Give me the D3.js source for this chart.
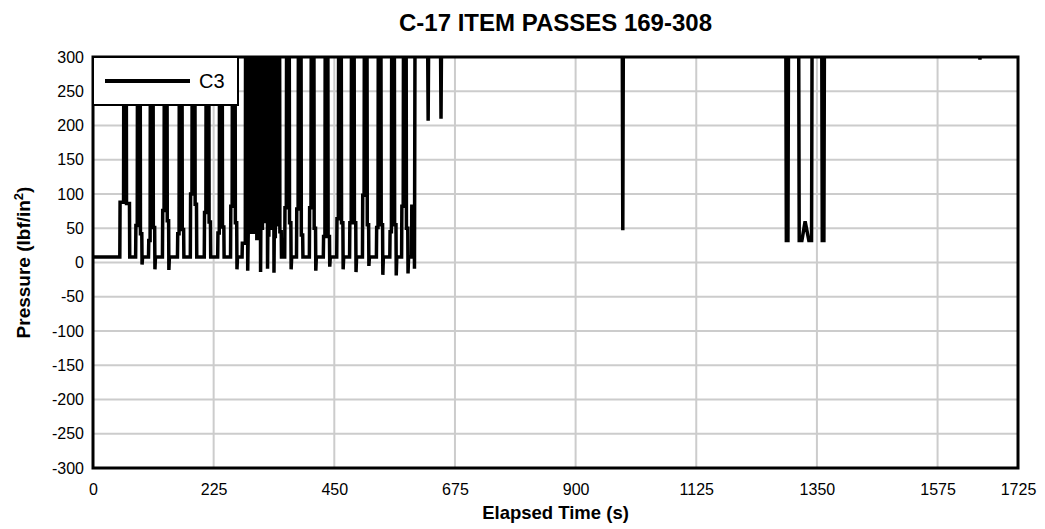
<!DOCTYPE html>
<html>
<head>
<meta charset="utf-8">
<script src="https://cdn.jsdelivr.net/npm/d3@7"></script>
<style>
  html, body { margin: 0; padding: 0; background: #fff; }
  svg { display: block; font-family: "Liberation Sans", Arial, Helvetica, sans-serif; }
</style>
</head>
<body>
<svg id="chart" width="1045" height="529"></svg>
<script>
// ---- data ----
const title = "C-17 ITEM PASSES 169-308";
const xLabel = "Elapsed Time (s)";
const seriesName = "C3";
const xTicks = [0, 225, 450, 675, 900, 1125, 1350, 1575, 1725];
const yTicks = [-300, -250, -200, -150, -100, -50, 0, 50, 100, 150, 200, 250, 300];

const time = [
  0,
  50, 50.5, 57, 57.5, 62, 62.5, 68, 68.5,
  79.5, 80, 82.5, 83, 88, 88.5, 91, 91.5, 92.5,
  103.5, 104, 106.5, 107, 112, 112.5, 115, 115.5, 116.5,
  129.5, 130, 132.5, 133, 138, 138.5, 141, 141.5, 142.5,
  157.5, 158, 160.5, 161, 166, 166.5, 169, 169.5,
  181.5, 182, 184.5, 185, 190, 190.5, 193, 193.5,
  207.5, 208, 210.5, 211, 216, 216.5, 219, 219.5,
  232.5, 233, 235.5, 236, 241, 241.5, 244, 244.5,
  256.5, 257, 259.5, 260, 265, 265.5, 268, 268.5, 269.5,
  278, 278.5, 284, 284.5, 288, 288.5, 289.5, 294, 294.5, 298, 298.5, 302, 302.5, 305,
  305.5, 309, 309.5, 312, 312.5, 313, 316, 316.5, 319, 319.5, 322, 322.5, 325, 325.5, 326,
  328, 328.5, 331, 331.5, 334, 334.5, 337, 337.5, 338, 340, 340.5, 343, 343.5, 346, 346.5,
  348, 348.5, 351, 351.5,
  357.5, 358, 360.5, 361, 366, 366.5, 369, 369.5, 370.5,
  379.5, 380, 382.5, 383, 388, 388.5, 391, 391.5,
  403.5, 404, 406.5, 407, 412, 412.5, 415, 415.5, 416.5,
  429.5, 430, 432.5, 433, 438, 438.5, 441, 441.5, 442.5,
  454.5, 455, 457.5, 458, 463, 463.5, 466, 466.5, 467.5,
  478.5, 479, 481.5, 482, 487, 487.5, 490, 490.5, 491.5,
  502.5, 503, 505.5, 506, 511, 511.5, 514, 514.5, 515.5,
  528.5, 529, 531.5, 532, 537, 537.5, 540, 540.5, 541.5,
  553.5, 554, 556.5, 557, 562, 562.5, 565, 565.5, 566.5,
  575.5, 576, 578.5, 579, 584, 584.5, 587, 587.5, 588.5,
  594, 594.5, 599, 599.5, 600.5,
  624, 625, 626, 648, 649, 650,
  987, 988, 989,
  1292, 1293, 1296, 1297,
  1316, 1317, 1322, 1328, 1335, 1340, 1341,
  1359, 1360, 1363, 1364,
  1653, 1654, 1655, 1725
];
const pressure = [
  8,
  8, 88, 88, 330, 330, 86, 86, 8,
  8, 54, 54, 330, 330, 42, 42, -3, 8,
  8, 32, 32, 330, 330, 51, 51, -10, 8,
  8, 76, 76, 330, 330, 61, 61, -11, 8,
  8, 42, 42, 330, 330, 48, 48, 8,
  8, 100, 100, 330, 330, 85, 85, 8,
  8, 73, 73, 330, 330, 59, 59, 8,
  8, 43, 43, 330, 330, 52, 52, 8,
  8, 82, 82, 330, 330, 58, 58, -10, 8,
  8, 28, 28, 330, 330, -12, 44, 44, 330, 330, 44, 44, 330, 330,
  35, 35, 330, 330, -14, 50, 50, 330, 330, 60, 60, 330, 330, -9, 40,
  40, 330, 330, 50, 50, 330, 330, -15, 38, 38, 330, 330, 55, 55, 330,
  330, 45, 45, 8,
  8, 80, 80, 330, 330, 58, 58, -10, 8,
  8, 78, 78, 330, 330, 40, 40, 8,
  8, 80, 80, 330, 330, 50, 50, -12, 8,
  8, 38, 38, 330, 330, 38, 38, -6, 8,
  8, 64, 64, 330, 330, 58, 58, -10, 8,
  8, 58, 58, 330, 330, 58, 58, -14, 8,
  8, 98, 98, 330, 330, 55, 55, -5, 8,
  8, 51, 51, 330, 330, 55, 55, -18, 8,
  8, 45, 45, 330, 330, 55, 55, -19, 8,
  8, 82, 82, 330, 330, 50, 50, -16, 8,
  8, 82, 82, -9, 330,
  330, 207, 330, 330, 210, 330,
  330, 47, 330,
  330, 32, 32, 330,
  330, 32, 32, 60, 32, 32, 330,
  330, 32, 32, 330,
  330, 296, 330, 330
];

// ---- layout ----
const svg = d3.select("#chart");
const plot = { left: 93, right: 1018, top: 57, bottom: 468 };

const x = d3.scaleLinear().domain([0, 1725]).range([plot.left, plot.right]);
const y = d3.scaleLinear().domain([-300, 300]).range([plot.bottom, plot.top]);

// grid
const grid = svg.append("g").attr("stroke", "#cccccc").attr("stroke-width", 2);
grid.selectAll("line.h").data(yTicks.filter(v => v > -300 && v < 300)).join("line")
  .attr("x1", plot.left).attr("x2", plot.right)
  .attr("y1", d => y(d)).attr("y2", d => y(d));
grid.selectAll("line.v").data(xTicks.filter(v => v > 0 && v < 1725)).join("line")
  .attr("y1", plot.top).attr("y2", plot.bottom)
  .attr("x1", d => x(d)).attr("x2", d => x(d));

// clip
svg.append("clipPath").attr("id", "clip").append("rect")
  .attr("x", plot.left).attr("y", plot.top)
  .attr("width", plot.right - plot.left).attr("height", plot.bottom - plot.top);

const pts = time.map((t, i) => [t, pressure[i]]);
const line = d3.line().x(d => x(d[0])).y(d => y(d[1]));
svg.append("path")
  .datum(pts)
  .attr("clip-path", "url(#clip)")
  .attr("fill", "none")
  .attr("stroke", "#000")
  .attr("stroke-width", 3.5)
  .attr("stroke-linejoin", "miter")
  .attr("d", line);

const fmt = d => String(d);

// axes
const xAxis = svg.append("g")
  .attr("transform", `translate(0,${plot.bottom})`)
  .call(d3.axisBottom(x).tickValues(xTicks).tickSize(0).tickPadding(16).tickFormat(fmt));
xAxis.select(".domain").remove();
xAxis.selectAll("text").attr("font-size", 16).attr("fill", "#000")
  .attr("font-family", "'Liberation Sans', Arial, sans-serif");

const yAxis = svg.append("g")
  .attr("transform", `translate(${plot.left},0)`)
  .call(d3.axisLeft(y).tickValues(yTicks).tickSize(0).tickPadding(9).tickFormat(fmt));
yAxis.select(".domain").remove();
yAxis.selectAll("text").attr("font-size", 16).attr("fill", "#000")
  .attr("font-family", "'Liberation Sans', Arial, sans-serif");

// frame
svg.append("rect")
  .attr("x", plot.left).attr("y", plot.top)
  .attr("width", plot.right - plot.left).attr("height", plot.bottom - plot.top)
  .attr("fill", "none").attr("stroke", "#000").attr("stroke-width", 3);

// legend
const lg = svg.append("g");
lg.append("rect").attr("x", plot.left).attr("y", plot.top)
  .attr("width", 145).attr("height", 48)
  .attr("fill", "#fff").attr("stroke", "#000").attr("stroke-width", 2);
lg.append("line").attr("x1", 105).attr("x2", 190).attr("y1", 81).attr("y2", 81)
  .attr("stroke", "#000").attr("stroke-width", 4);
lg.append("text").attr("x", 199).attr("y", 88).attr("font-size", 20).text(seriesName);

// titles
svg.append("text").attr("x", (plot.left + plot.right) / 2).attr("y", 31)
  .attr("text-anchor", "middle").attr("font-size", 24).attr("font-weight", "bold").text(title);
svg.append("text").attr("x", (plot.left + plot.right) / 2).attr("y", 519)
  .attr("text-anchor", "middle").attr("font-size", 18.5).attr("font-weight", "bold").text(xLabel);
const yl = svg.append("text")
  .attr("transform", `translate(30,${(plot.top + plot.bottom) / 2}) rotate(-90)`)
  .attr("text-anchor", "middle").attr("font-size", 19).attr("font-weight", "bold");
yl.append("tspan").text("Pressure (lbf/in");
yl.append("tspan").attr("font-size", 13).attr("dy", -7).text("2");
yl.append("tspan").attr("dy", 7).text(")");
</script>
</body>
</html>
